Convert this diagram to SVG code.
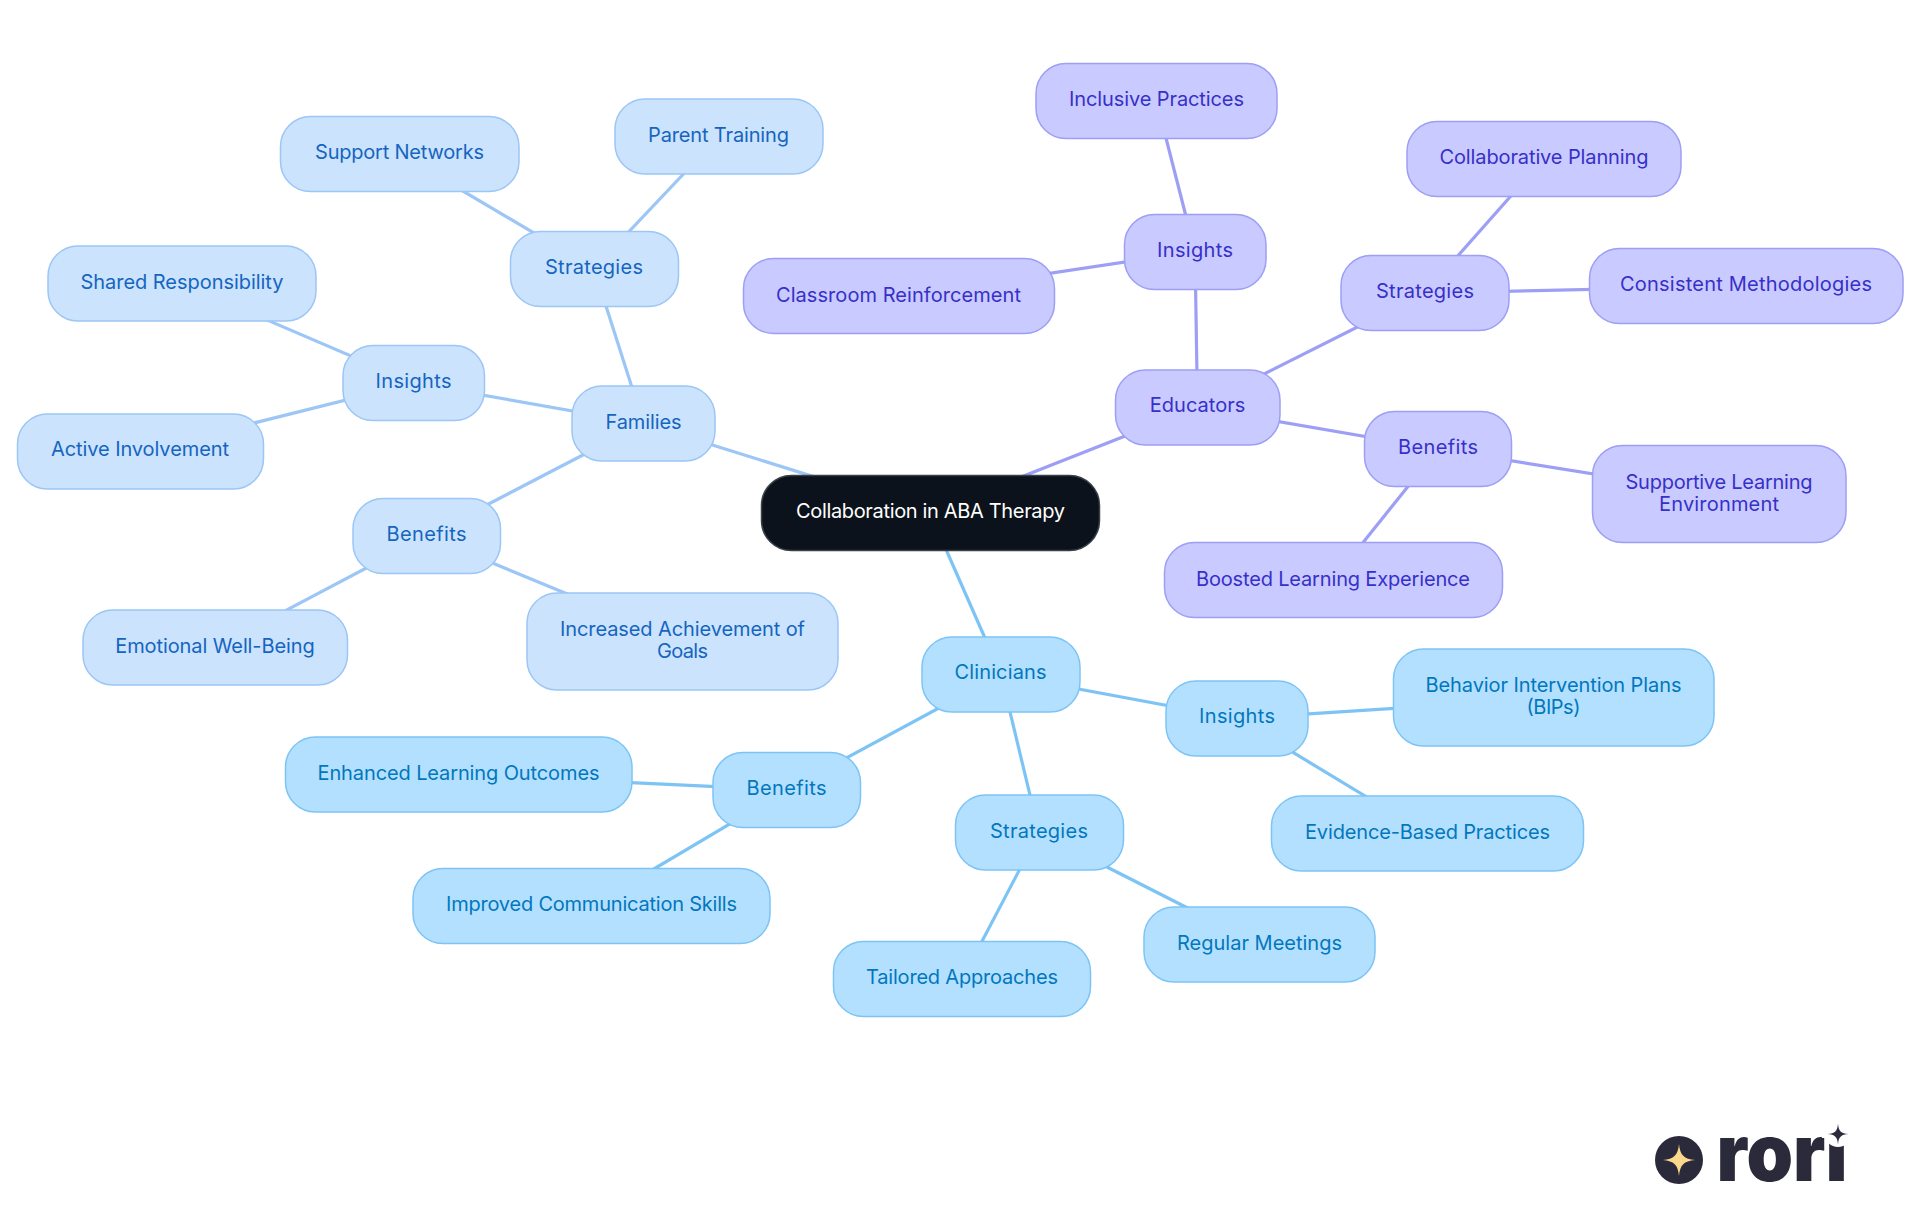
<svg xmlns="http://www.w3.org/2000/svg" width="1920" height="1215" viewBox="0 0 1920 1215">
<style>
text{font-family:"Inter","Noto Sans","Liberation Sans",sans-serif;font-size:20px;font-weight:400;text-anchor:middle}
.n rect{stroke-width:1.5}
.fam rect{fill:#cbe3fd;stroke:#9cc6f5}.fam text{fill:#1565c0}
.cli rect{fill:#b3e0ff;stroke:#7dc4f5}.cli text{fill:#0277bd}
.edu rect{fill:#c9caff;stroke:#9d9ff5}.edu text{fill:#3730c8}
#root rect{fill:#0b121b;stroke:#3a4048}#root text{fill:#fff}
#connectors line{stroke-width:3.2;fill:none}
.lf{stroke:#9cc6f5}.lc{stroke:#7dc4f5}.le{stroke:#9d9ff5}
</style>
<rect width="1920" height="1215" fill="#fff"/>
<g id="connectors">
<g class="lf">
<line x1="930" y1="513" x2="643.5" y2="423.5"/><line x1="643.5" y1="423.5" x2="594" y2="268.5"/><line x1="594" y1="268.5" x2="719" y2="136.5"/><line x1="594" y1="268.5" x2="399.5" y2="153.5"/><line x1="643.5" y1="423.5" x2="414" y2="383"/><line x1="414" y1="383" x2="182" y2="283.5"/><line x1="414" y1="383" x2="140" y2="451.5"/><line x1="643.5" y1="423.5" x2="427" y2="536"/><line x1="427" y1="536" x2="215.5" y2="647.5"/><line x1="427" y1="536" x2="682.5" y2="641.5"/>
</g>
<g class="lc">
<line x1="930" y1="513" x2="1001" y2="674.5"/><line x1="1001" y1="674.5" x2="1237" y2="718.5"/><line x1="1237" y1="718.5" x2="1553.5" y2="698"/><line x1="1237" y1="718.5" x2="1427" y2="833.5"/><line x1="1001" y1="674.5" x2="1039" y2="832.5"/><line x1="1039" y1="832.5" x2="1259.5" y2="944.5"/><line x1="1039" y1="832.5" x2="962.5" y2="978.5"/><line x1="1001" y1="674.5" x2="787" y2="790"/><line x1="787" y1="790" x2="458.5" y2="774.5"/><line x1="787" y1="790" x2="591.5" y2="906"/>
</g>
<g class="le">
<line x1="930" y1="513" x2="1197.5" y2="407.5"/><line x1="1197.5" y1="407.5" x2="1195" y2="251.5"/><line x1="1195" y1="251.5" x2="1156.5" y2="101"/><line x1="1195" y1="251.5" x2="898.5" y2="296"/><line x1="1197.5" y1="407.5" x2="1425" y2="293"/><line x1="1425" y1="293" x2="1544" y2="158.5"/><line x1="1425" y1="293" x2="1746" y2="286"/><line x1="1197.5" y1="407.5" x2="1438" y2="449"/><line x1="1438" y1="449" x2="1719" y2="494"/><line x1="1438" y1="449" x2="1333" y2="580"/>
</g>
</g>
<g id="root" class="n"><rect x="761.500" y="475.500" width="338" height="75" rx="30"/><text x="930.500" y="518" textLength="269">Collaboration in ABA Therapy</text></g>
<g id="families" class="n fam"><rect x="572" y="386" width="143" height="75" rx="30"/><text x="643.500" y="428.500" textLength="76">Families</text></g>
<g id="f-strategies" class="n fam"><rect x="510.500" y="231.500" width="168" height="75" rx="30"/><text x="594" y="273.500" textLength="98">Strategies</text></g>
<g id="parent-training" class="n fam"><rect x="615" y="99" width="208" height="75" rx="30"/><text x="718.500" y="141.500" textLength="141">Parent Training</text></g>
<g id="support-networks" class="n fam"><rect x="280.500" y="116.500" width="238.500" height="75" rx="30"/><text x="399.500" y="158.500" textLength="169">Support Networks</text></g>
<g id="f-insights" class="n fam"><rect x="343" y="345.500" width="141.500" height="75" rx="30"/><text x="413.500" y="388" textLength="76">Insights</text></g>
<g id="shared-responsibility" class="n fam"><rect x="48" y="246" width="268" height="75" rx="30"/><text x="182" y="288.500" textLength="203">Shared Responsibility</text></g>
<g id="active-involvement" class="n fam"><rect x="17.500" y="414" width="246" height="75" rx="30"/><text x="140" y="456" textLength="178">Active Involvement</text></g>
<g id="f-benefits" class="n fam"><rect x="353" y="498.500" width="147.500" height="75" rx="30"/><text x="426.500" y="541" textLength="80">Benefits</text></g>
<g id="emotional" class="n fam"><rect x="83" y="610" width="264.500" height="75" rx="30"/><text x="215" y="652.500" textLength="199.500">Emotional Well-Being</text></g>
<g id="increased" class="n fam"><rect x="527" y="593" width="311" height="97" rx="30"/><text x="682.500" y="636" textLength="245">Increased Achievement of</text><text x="682.500" y="658" textLength="51">Goals</text></g>
<g id="clinicians" class="n cli"><rect x="922" y="637" width="158" height="75" rx="30"/><text x="1000.500" y="679" textLength="92">Clinicians</text></g>
<g id="c-insights" class="n cli"><rect x="1166" y="681" width="142" height="75" rx="30"/><text x="1237" y="723" textLength="76">Insights</text></g>
<g id="bips" class="n cli"><rect x="1393.500" y="649" width="320.500" height="97" rx="30"/><text x="1553.500" y="692" textLength="256">Behavior Intervention Plans</text><text x="1553.500" y="714" textLength="54">(BIPs)</text></g>
<g id="evidence" class="n cli"><rect x="1271.500" y="796" width="312" height="75" rx="30"/><text x="1427.500" y="838.500" textLength="245">Evidence-Based Practices</text></g>
<g id="c-strategies" class="n cli"><rect x="955.500" y="795" width="168" height="75" rx="30"/><text x="1039" y="837.500" textLength="98">Strategies</text></g>
<g id="regular" class="n cli"><rect x="1144" y="907" width="231" height="75" rx="30"/><text x="1259.500" y="949.500" textLength="165">Regular Meetings</text></g>
<g id="tailored" class="n cli"><rect x="833.500" y="941.500" width="257" height="75" rx="30"/><text x="962" y="983.500" textLength="192">Tailored Approaches</text></g>
<g id="c-benefits" class="n cli"><rect x="713" y="752.500" width="147.500" height="75" rx="30"/><text x="786.500" y="795" textLength="80">Benefits</text></g>
<g id="enhanced" class="n cli"><rect x="285.500" y="737" width="346.500" height="75" rx="30"/><text x="458.500" y="779.500" textLength="282">Enhanced Learning Outcomes</text></g>
<g id="improved" class="n cli"><rect x="413" y="868.500" width="357" height="75" rx="30"/><text x="591.500" y="910.500" textLength="291">Improved Communication Skills</text></g>
<g id="educators" class="n edu"><rect x="1115.500" y="370" width="164.500" height="75" rx="30"/><text x="1197.500" y="412" textLength="95.500">Educators</text></g>
<g id="e-insights" class="n edu"><rect x="1124.500" y="214.500" width="141.500" height="75" rx="30"/><text x="1195" y="256.500" textLength="76">Insights</text></g>
<g id="inclusive" class="n edu"><rect x="1036" y="63.500" width="241" height="75" rx="30"/><text x="1156.500" y="106" textLength="175">Inclusive Practices</text></g>
<g id="classroom" class="n edu"><rect x="743.500" y="258.500" width="311" height="75" rx="30"/><text x="898.500" y="301.500" textLength="245">Classroom Reinforcement</text></g>
<g id="e-strategies" class="n edu"><rect x="1341" y="255.500" width="168" height="75" rx="30"/><text x="1425" y="298" textLength="98">Strategies</text></g>
<g id="collaborative" class="n edu"><rect x="1407" y="121.500" width="274" height="75" rx="30"/><text x="1544" y="163.500" textLength="209">Collaborative Planning</text></g>
<g id="consistent" class="n edu"><rect x="1589.500" y="248.500" width="313.500" height="75" rx="30"/><text x="1746" y="291" textLength="252">Consistent Methodologies</text></g>
<g id="e-benefits" class="n edu"><rect x="1364.500" y="411.500" width="147" height="75" rx="30"/><text x="1438" y="454" textLength="80">Benefits</text></g>
<g id="supportive" class="n edu"><rect x="1592.500" y="445.500" width="253.500" height="97" rx="30"/><text x="1719" y="489" textLength="187">Supportive Learning</text><text x="1719" y="511" textLength="120">Environment</text></g>
<g id="boosted" class="n edu"><rect x="1164.500" y="542.500" width="338" height="75" rx="30"/><text x="1333" y="585.500" textLength="274">Boosted Learning Experience</text></g>
<g id="logo">
<circle cx="1679" cy="1160" r="24" fill="#2a2a3a"/>
<path d="M1679 1144C1680 1155 1684 1159 1695 1160C1684 1161 1680 1165 1679 1176C1678 1165 1674 1161 1663 1160C1674 1159 1678 1155 1679 1144Z" fill="#fbd98c"/>
<text x="1782" y="1181" textLength="131" lengthAdjust="spacingAndGlyphs" style="font-size:79px;font-weight:900;fill:#2a2a3a">rori</text>
<rect x="1822" y="1108" width="32" height="30" fill="#fff"/>
<circle cx="1838" cy="1134" r="13" fill="#fff"/>
<path d="M1838 1123.500C1838.500 1131 1841 1133.500 1848.500 1134C1841 1134.500 1838.500 1137 1838 1144.500C1837.500 1137 1835 1134.500 1827.500 1134C1835 1133.500 1837.500 1131 1838 1123.500Z" fill="#2a2a3a"/>
</g>
</svg>
